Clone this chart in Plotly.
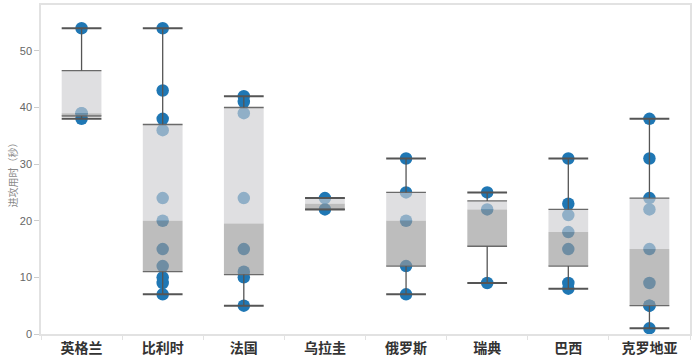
import numpy as np
import plotly.graph_objects as go

categories = ["英格兰", "比利时", "法国", "乌拉圭", "俄罗斯", "瑞典", "巴西", "克罗地亚"]
england = [38, 39, 39, 54]
belgium = [7, 9, 10, 12, 15, 20, 24, 36, 38, 43, 54]
france = [5, 10, 11, 15, 24, 39, 41, 42]
uruguay = [22, 24]
russia = [7, 12, 20, 25, 31]
sweden = [9, 22, 25]
brazil = [8, 9, 15, 18, 21, 23, 31]
croatia = [1, 5, 5, 9, 15, 22, 24, 31, 38]
series = [england, belgium, france, uruguay, russia, sweden, brazil, croatia]
y_ticks = [0, 10, 20, 30, 40, 50]
y_title = "进攻用时（秒）"

POINT = "rgb(31,119,180)"
LIGHT = "rgba(206,206,209,0.65)"
DARK = "rgba(154,154,154,0.65)"
LINE = "#555555"
HALF = 0.245


def stats(vals):
    v = sorted(vals)
    n = len(v)
    med = float(np.median(v))
    if n % 2:
        lower, upper = v[: n // 2 + 1], v[n // 2:]
    else:
        lower, upper = v[: n // 2], v[n // 2:]
    q1, q3 = float(np.median(lower)), float(np.median(upper))
    iqr = q3 - q1
    lo = min(x for x in v if x >= q1 - 1.5 * iqr)
    hi = max(x for x in v if x <= q3 + 1.5 * iqr)
    return q1, med, q3, lo, hi


fig = go.Figure()
xs, ys = [], []
for c, vals in zip(categories, series):
    xs += [c] * len(vals)
    ys += vals
fig.add_trace(go.Scatter(x=xs, y=ys, mode="markers",
                         marker=dict(size=12.5, color=POINT, line=dict(width=0)),
                         showlegend=False, hoverinfo="x+y", cliponaxis=False))

shapes = []
for i, vals in enumerate(series):
    q1, med, q3, lo, hi = stats(vals)
    x0, x1 = i - HALF, i + HALF
    shapes.append(dict(type="rect", xref="x", yref="y", x0=x0, x1=x1, y0=med, y1=q3,
                       fillcolor=LIGHT, line=dict(width=0), layer="above"))
    shapes.append(dict(type="rect", xref="x", yref="y", x0=x0, x1=x1, y0=q1, y1=med,
                       fillcolor=DARK, line=dict(width=0), layer="above"))
    for yv in (q1, q3):
        shapes.append(dict(type="line", xref="x", yref="y", x0=x0, x1=x1, y0=yv, y1=yv,
                           line=dict(color="#6a6a6a", width=1.3), layer="above"))
    if hi > q3:
        shapes.append(dict(type="line", xref="x", yref="y", x0=i, x1=i, y0=q3, y1=hi,
                           line=dict(color=LINE, width=1.3), layer="above"))
    if lo < q1:
        shapes.append(dict(type="line", xref="x", yref="y", x0=i, x1=i, y0=lo, y1=q1,
                           line=dict(color=LINE, width=1.3), layer="above"))
    for yv in (lo, hi):
        shapes.append(dict(type="line", xref="x", yref="y", x0=x0, x1=x1, y0=yv, y1=yv,
                           line=dict(color=LINE, width=2), layer="above"))

fig.update_layout(
    width=698, height=358,
    margin=dict(l=41, r=8, t=5, b=24),
    paper_bgcolor="white", plot_bgcolor="white",
    shapes=shapes,
    showlegend=False,
    xaxis=dict(type="category", categoryorder="array", categoryarray=categories,
               range=[-0.5, len(categories) - 0.5], automargin=False,
               showgrid=False, zeroline=False,
               showline=True, linecolor="#e2e2e2", linewidth=1.5, mirror=True,
               ticks="outside", tickson="boundaries", ticklen=4, tickcolor="#e2e2e2",
               tickfont=dict(family="Noto Sans CJK SC", size=14, color="#333333", weight="bold")),
    yaxis=dict(range=[0, 58.1], tickvals=y_ticks, showgrid=False, zeroline=False,
               automargin=False,
               showline=True, linecolor="#e2e2e2", linewidth=1.5, mirror=True,
               ticks="outside", ticklen=5, tickcolor="#cccccc",
               tickfont=dict(family="Liberation Sans", size=11, color="#666666")),
    annotations=[dict(text=y_title, xref="paper", yref="paper", x=-0.0435, y=0.49,
                      xanchor="center", yanchor="middle", textangle=-90, showarrow=False,
                      font=dict(family="Noto Sans CJK SC", size=10, color="#8a8a8a"))],
)

fig.write_html("out.html", config={"displayModeBar": False},
               post_script="document.body.style.margin='0';document.body.style.overflow='hidden';")
